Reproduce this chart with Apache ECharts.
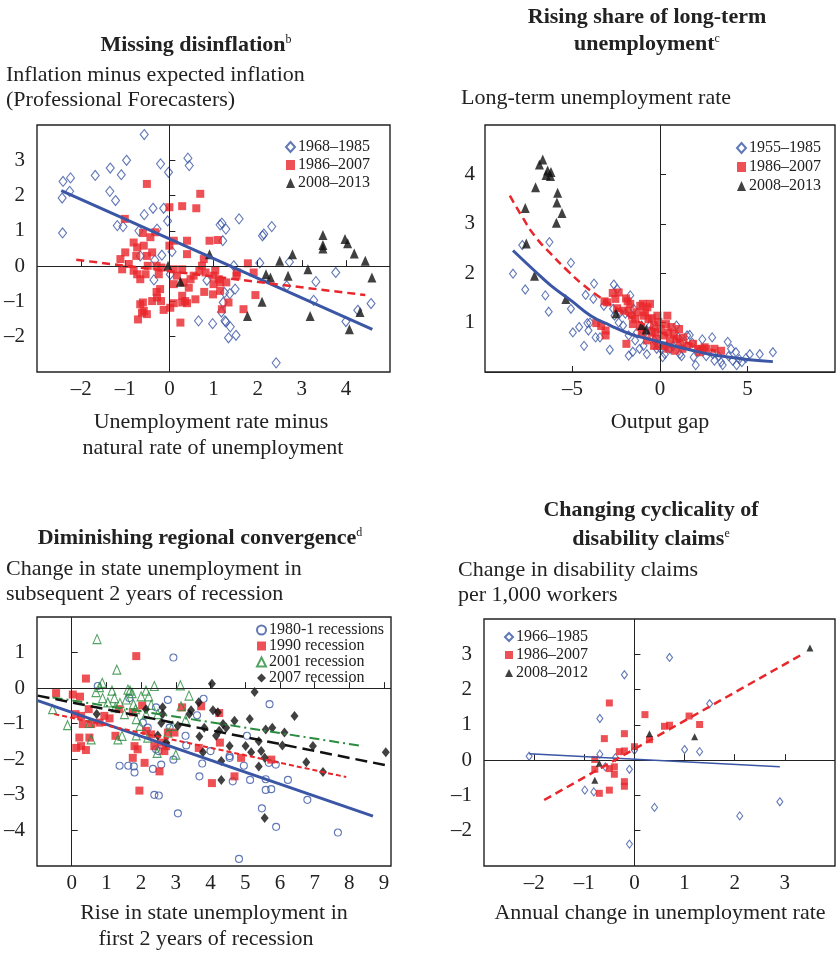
<!DOCTYPE html>
<html>
<head>
<meta charset="utf-8">
<script src="https://cdn.jsdelivr.net/npm/echarts@6/dist/echarts.min.js"></script>
<style>html,body{margin:0;padding:0;background:#fff}#c{width:836px;height:953px}</style>
</head>
<body>
<div id="c"></div>
<script>
// ---------- Panel A: Missing disinflation ----------
const A_1968_1985 = [[-2.43,1.93],[-2.41,2.40],[-2.24,2.50],[-2.26,2.12],[-2.42,0.94],[-1.68,2.57],[-1.34,2.78],[-1.35,2.12],[-1.22,1.86],[-1.09,2.59],[-0.97,3.0],[-1.18,1.15],[-1.05,1.12],[-0.57,3.73],[-0.57,1.46],[-0.37,1.64],[-0.2,2.9],[-0.02,2.66],[-0.13,1.64],[-0.04,1.28],[-0.28,1.05],[-0.69,1.0],[0.42,3.06],[0.45,2.85],[0.06,0.41],[-0.33,0.17],[-0.35,-0.39],[-0.66,0.29],[0.02,-0.23],[1.19,1.22],[1.15,1.17],[1.28,1.05],[1.21,0.72],[1.58,1.34],[0.85,-0.4],[1.25,-0.75],[1.22,-1.03],[1.26,-1.55],[1.28,-1.58],[1.38,-1.72],[1.34,-2.03],[1.51,-1.96],[1.49,-0.65],[1.37,-0.78],[0.66,-1.55],[0.98,-1.63],[1.18,-1.3],[1.46,0.01],[2.05,0.09],[2.11,0.86],[2.14,0.91],[2.32,1.12],[2.72,0.12],[2.66,-0.56],[2.42,-2.74],[3.32,-0.44],[3.27,-0.97],[3.77,-0.18],[4.0,-1.57],[4.27,-1.25],[4.57,-1.06],[-0.17,0.31]];
const A_1986_2007 = [[-0.51,2.33],[-1.01,1.34],[0.70,2.05],[0.0,1.67],[0.29,1.70],[0.61,1.64],[0.91,0.72],[1.1,0.74],[0.4,0.72],[0.1,0.72],[0.0,0.58],[0.4,0.34],[-0.32,0.96],[-0.43,0.82],[-0.6,0.94],[-0.81,0.67],[-0.73,0.53],[-0.58,0.58],[-0.39,0.39],[-1.0,0.39],[-1.11,0.2],[-0.92,0.06],[-0.75,0.29],[-0.51,0.29],[-1.07,-0.09],[-0.81,-0.13],[-0.73,-0.23],[-0.66,-0.37],[-0.54,-0.23],[-0.49,0.01],[-0.29,0.01],[-0.18,-0.04],[-0.24,-0.23],[0.1,-0.09],[0.29,-0.09],[0.17,-0.27],[0.1,-0.51],[0.32,-0.46],[0.48,-0.37],[0.55,-0.27],[0.68,-0.13],[0.74,0.01],[0.78,0.2],[0.82,-0.18],[1.04,-0.13],[1.0,-0.27],[1.12,-0.37],[1.0,-0.51],[1.15,-0.46],[1.29,-0.46],[0.99,-0.8],[1.15,-0.7],[0.79,-0.73],[0.44,-0.61],[0.59,-0.94],[0.29,-0.84],[0.29,-1.03],[0.36,-0.99],[0.4,-1.05],[0.1,-1.05],[0.02,-1.18],[0.25,-1.6],[-0.13,-1.24],[-0.19,-0.99],[-0.28,-0.89],[-0.39,-0.99],[-0.29,-0.73],[-0.21,-0.65],[-0.66,-1.08],[-0.6,-1.03],[-0.71,-1.51],[-0.62,-1.32],[-0.51,-1.36],[-0.58,-1.27],[1.34,-1.03],[1.19,-1.22],[1.68,-1.22],[1.53,-0.18],[1.78,0.08],[1.91,-0.18],[1.95,-0.82],[1.52,-0.27]];
const A_2008_2013 = [[-0.03,0.01],[0.25,-0.44],[0.91,0.34],[1.77,-1.41],[2.1,-1.01],[2.19,-0.23],[2.29,-0.32],[2.5,0.15],[2.69,-0.27],[2.79,0.34],[3.14,-0.09],[3.19,-1.41],[3.48,0.88],[3.48,0.6],[3.48,0.5],[3.98,0.77],[4.04,0.65],[4.19,0.36],[4.08,-1.79],[4.32,-1.3],[4.44,0.15],[4.59,-0.32]];
const A_fit_1968_1985 = [[-2.45,2.14],[4.6,-1.79]];
const A_fit_1986_2007 = [[-2.11,0.18],[4.44,-0.82]];

// ---------- Panel B: Long-term unemployment ----------
const B_1955_1985 = [[-8.4,1.99],[-7.7,1.67],[-7.87,2.57],[-6.55,1.55],[-6.36,1.22],[-6.32,2.63],[-5.09,2.21],[-5.09,1.28],[-4.98,0.8],[-4.62,0.91],[-4.34,0.53],[-4.25,1.56],[-4.15,0.99],[-4.09,0.84],[-4.0,1.0],[-3.77,1.79],[-3.81,1.48],[-3.68,0.7],[-3.43,0.7],[-3.21,1.34],[-2.87,0.45],[-2.64,1.77],[-2.45,1.68],[-2.68,1.28],[-2.6,1.14],[-2.36,1.0],[-2.26,1.21],[-2.11,0.94],[-1.98,1.18],[-1.79,0.74],[-1.79,0.33],[-1.7,1.55],[-1.55,0.41],[-1.42,0.64],[-1.51,1.28],[-1.32,0.8],[-1.17,0.47],[-0.94,0.53],[-0.85,0.8],[-0.75,0.36],[-0.57,0.94],[-0.32,0.64],[-0.19,0.47],[0.15,0.3],[0.28,0.36],[0.57,0.47],[0.75,0.53],[0.94,0.94],[1.04,0.7],[1.13,0.36],[1.23,0.32],[1.32,0.6],[1.55,0.74],[1.7,0.75],[1.85,0.59],[1.92,0.3],[2.04,0.14],[2.17,0.4],[2.45,0.47],[2.64,0.32],[2.98,0.7],[3.02,0.36],[3.11,0.23],[3.36,0.32],[3.49,0.2],[3.58,0.14],[3.87,0.61],[3.92,0.32],[4.06,0.47],[4.15,0.23],[4.34,0.4],[4.38,0.14],[4.53,0.26],[4.68,0.2],[4.91,0.28],[5.13,0.36],[5.7,0.36],[6.45,0.4],[2.42,0.66],[0.04,0.47],[0.38,0.53]];
const B_1986_2007 = [[-3.64,0.99],[-3.36,0.93],[-3.11,0.84],[-3.11,0.74],[-3.17,1.43],[-3.02,1.41],[-2.7,1.6],[-2.36,1.61],[-2.55,1.48],[-2.45,1.29],[-1.94,1.49],[-1.85,1.43],[-1.7,1.38],[-1.92,0.57],[-2.08,1.24],[-1.79,1.24],[-1.6,1.14],[-1.55,0.97],[-1.42,1.07],[-1.32,1.21],[-1.13,1.34],[-0.98,1.38],[-0.85,1.21],[-0.72,1.31],[-0.57,1.38],[-0.66,1.07],[-0.47,1.09],[-0.34,0.94],[-0.15,1.14],[-0.09,1.01],[-0.28,0.8],[0.04,0.87],[0.19,0.74],[0.34,0.97],[0.42,1.14],[0.47,0.8],[0.57,0.64],[0.66,0.91],[0.79,0.77],[0.94,0.67],[1.09,0.87],[1.13,0.57],[1.28,0.47],[1.32,0.7],[-0.34,0.53],[-0.75,0.64],[-0.47,0.8],[-1.13,0.91],[-1.04,0.8],[-0.09,0.53],[0.47,0.47],[0.85,0.43],[1.55,0.53],[1.89,0.57],[2.17,0.47],[2.55,0.5],[2.64,0.47],[3.11,0.47],[3.49,0.43],[2.26,0.4],[0.19,0.53],[-0.23,0.67],[-0.94,1.14]];
const B_2008_2013 = [[-6.7,4.3],[-6.89,4.2],[-6.42,4.08],[-6.23,4.05],[-6.51,3.99],[-6.26,3.97],[-7.11,3.74],[-7.7,3.32],[-5.85,3.63],[-5.89,3.43],[-5.6,3.22],[-5.92,3.02],[-7.64,2.6],[-7.17,1.95],[-5.38,1.48],[-2.51,1.19],[-1.04,0.95],[-0.79,0.86]];
const B_fit_1955_1985 = [[-8.4,2.46],[-7.17,2.05],[-6.23,1.75],[-5.09,1.45],[-3.96,1.14],[-2.83,0.94],[-1.7,0.77],[-0.57,0.66],[0.57,0.55],[1.7,0.45],[2.83,0.36],[3.96,0.3],[5.1,0.25],[6.45,0.21]];
const B_fit_1986_2007 = [[-8.58,3.57],[-7.92,3.17],[-7.17,2.76],[-6.23,2.39],[-5.28,2.05],[-4.34,1.75],[-3.58,1.55],[-2.45,1.28],[-1.32,1.04],[-0.19,0.84],[0.94,0.67],[2.08,0.53],[3.2,0.43]];

// ---------- Panel C: Regional convergence ----------
const C_1980 = [[0.75,0.06],[2.93,0.86],[1.66,-0.28],[2.77,-0.33],[3.8,-0.3],[3.61,-0.76],[2.43,-0.54],[2.05,-0.97],[2.19,-1.11],[2.82,-1.11],[3.28,-1.34],[3.3,-1.61],[2.43,-1.72],[4.0,-1.77],[4.55,-1.91],[5.05,-1.34],[5.7,-0.45],[1.38,-2.18],[1.63,-2.18],[1.79,-2.2],[1.81,-2.37],[2.34,-2.27],[2.58,-2.15],[2.93,-2.01],[3.76,-2.12],[3.68,-2.48],[4.64,-2.62],[4.96,-2.18],[5.14,-2.58],[5.59,-2.56],[5.68,-2.1],[5.88,-2.15],[5.59,-2.86],[5.75,-2.84],[6.23,-2.58],[2.38,-3.0],[2.51,-3.02],[3.06,-3.52],[5.48,-3.38],[5.89,-3.9],[6.79,-3.14],[7.67,-4.06],[4.82,-4.8],[4.55,-1.96],[2.5,-1.77]];
const C_1990 = [[-0.45,-0.14],[0.03,-0.18],[0.24,-0.24],[0.41,0.27],[1.86,0.9],[0.13,-1.68],[0.22,-1.39],[0.27,-1.63],[0.41,-1.74],[0.51,-1.39],[0.11,-0.73],[0.27,-0.78],[0.32,-1.01],[0.49,-0.59],[0.56,-1.01],[0.8,-0.97],[0.94,-0.78],[1.09,-0.85],[1.26,-1.34],[1.36,-0.59],[1.76,-0.68],[1.81,-1.63],[1.76,-1.96],[1.9,-1.72],[1.95,-2.88],[2.03,-0.49],[2.1,-2.1],[2.14,-1.2],[2.29,-1.3],[2.38,-1.63],[2.53,-2.34],[2.67,-1.77],[2.77,-1.25],[2.96,-1.25],[3.18,-0.54],[3.66,-1.68],[3.73,-0.51],[4.04,-2.67],[4.25,-0.7],[4.27,-1.53],[4.69,-2.48],[4.88,-1.96],[5.75,-2.01],[2.58,-1.53],[2.72,-1.63]];
const C_2001 = [[0.73,1.38],[1.3,0.52],[-0.55,-0.59],[-0.12,-1.04],[0.51,-0.98],[0.56,-1.44],[0.7,-0.11],[0.8,0.03],[0.88,0.15],[0.89,-0.28],[1.04,-0.4],[1.16,-0.07],[1.23,-0.28],[1.26,-0.54],[1.39,-0.42],[1.52,-0.73],[1.62,-0.04],[1.68,-0.07],[1.74,-0.14],[1.78,-0.45],[1.84,-0.59],[1.86,-0.87],[1.86,-1.33],[1.97,-1.06],[2.0,-0.23],[2.14,-0.07],[2.22,-0.23],[2.29,-0.47],[2.38,0.06],[2.48,-0.73],[2.19,-1.39],[2.46,-1.82],[3.0,-1.87],[3.13,0.08],[3.38,-0.21],[3.15,-0.51],[3.28,-0.89],[2.91,-1.06],[2.77,-1.25],[1.33,-1.44],[1.45,-1.34],[2.14,-0.73],[1.57,-0.32]];
const C_2007 = [[0.72,-0.73],[2.14,-0.59],[2.48,-1.33],[2.62,-0.54],[2.62,-0.73],[2.58,-0.98],[2.72,-1.53],[3.06,-1.06],[3.44,-0.62],[3.39,-0.73],[3.66,-0.4],[3.68,-1.36],[3.82,-1.11],[3.78,-1.8],[4.04,0.12],[4.07,-0.62],[4.21,-0.68],[4.16,-1.34],[4.25,-1.2],[4.36,-1.01],[4.45,-1.11],[4.55,-1.63],[4.31,-2.05],[4.31,-2.58],[4.69,-0.92],[5.01,-1.63],[5.13,-0.87],[5.27,-0.11],[5.17,-1.8],[5.39,-1.49],[5.46,-1.77],[5.39,-2.2],[5.56,-1.96],[5.59,-1.16],[5.78,-1.11],[5.56,-3.65],[6.13,-1.25],[6.07,-1.61],[6.42,-0.78],[6.95,-1.63],[6.76,-2.08],[7.24,-2.36],[9.05,-1.8]];
const C_fit_1980 = [[-0.98,-0.35],[8.68,-3.6]];
const C_fit_1990 = [[-0.5,-0.73],[7.91,-2.5]];
const C_fit_2001 = [[-0.55,-0.26],[8.39,-1.63]];
const C_fit_2007 = [[-0.98,-0.21],[9.07,-2.17]];

// ---------- Panel D: Disability claims ----------
const D_1966_1985 = [[-2.1,0.11],[-0.69,1.18],[-0.69,0.17],[-0.38,0.07],[-0.58,-0.19],[-0.99,-0.85],[-0.81,-0.9],[-0.2,2.42],[-0.1,-0.26],[-0.1,-2.38],[0.0,0.28],[0.4,-1.34],[0.7,2.91],[1.0,0.3],[1.3,0.24],[1.5,1.6],[2.1,-1.58],[2.9,-1.18]];
const D_1986_2007 = [[-0.5,1.62],[-0.6,0.61],[-0.79,0.02],[-0.79,-0.26],[-0.7,-0.94],[-0.5,-0.85],[-0.5,-0.24],[-0.4,-0.19],[-0.4,-0.4],[-0.3,0.24],[-0.2,0.26],[-0.2,0.75],[-0.2,-0.61],[-0.2,-0.74],[0.0,0.38],[0.21,1.29],[0.3,0.58],[0.6,0.96],[0.7,0.99],[1.09,1.25],[1.3,1.01]];
const D_2008_2012 = [[-0.79,-0.57],[-0.7,-0.09],[0.3,0.75],[1.2,0.66],[3.5,3.18]];
const D_fit_1966_1985 = [[-2.1,0.18],[2.9,-0.19]];
const D_fit_1986_2007 = [[-1.8,-1.13],[3.31,2.97]];

// ---------- styling ----------
const FONT = '"Liberation Serif","Times New Roman",serif';
const BLUE = '#3a56a5', RED = '#e8262b', GREEN = '#2a8c3e', BLACK = '#111';
const TXT = '#222';

function fmt(v){ return v < 0 ? '\u2013' + Math.abs(v) : String(v); }

function mkAxis(idx, min, max, interval, margin){
  return {
    type:'value', gridIndex:idx, min:min, max:max, interval:interval,
    axisLine:{show:false},
    axisTick:{show:true, inside:true, length:6, lineStyle:{color:TXT, width:1}},
    splitLine:{show:false},
    axisLabel:{show:true, showMinLabel:false, showMaxLabel:false, formatter:fmt, margin:margin,
      color:TXT, fontFamily:FONT, fontSize:21}
  };
}

const grids = [
  {left:37, top:125, width:353, height:247},
  {left:485, top:125, width:350, height:247},
  {left:37, top:617, width:354, height:249},
  {left:484, top:619, width:351, height:247}
].map(g => Object.assign({show:true, borderColor:TXT, borderWidth:1.4, backgroundColor:'transparent'}, g));

const xAxes = [mkAxis(0,-3,5,1,7), mkAxis(1,-10,10,5,7), mkAxis(2,-1,9.2,1,7), mkAxis(3,-3,4,1,7)];
const yAxes = [mkAxis(0,-3,4,1,12), mkAxis(1,0,5,1,10), mkAxis(2,-5,2,1,12), mkAxis(3,-3,4,1,12)];

function scatter(name, idx, data, symbol, size, style, z){
  return {type:'scatter', name:name, xAxisIndex:idx, yAxisIndex:idx, data:data, symbol:symbol,
    symbolSize:size, itemStyle:style, z:z||3, silent:true};
}
function fit(idx, data, color, width, type, smooth){
  return {type:'line', xAxisIndex:idx, yAxisIndex:idx, data:data, showSymbol:false, symbol:'none',
    smooth:!!smooth, lineStyle:{color:color, width:width, type:type}, z:5, silent:true};
}
function zeroLines(idx){
  return {type:'line', xAxisIndex:idx, yAxisIndex:idx, data:[], silent:true, z:2,
    markLine:{silent:true, symbol:['none','none'], label:{show:false},
      lineStyle:{color:TXT, width:1, type:'solid'}, data:[{xAxis:0},{yAxis:0}]}};
}
const hollow = c => ({color:'rgba(255,255,255,0)', borderColor:c, borderWidth:1.1});
const solid = c => ({color:c});

const series = [
  zeroLines(0), zeroLines(1), zeroLines(2), zeroLines(3),
  // A
  scatter('1968\u20131985',0,A_1968_1985,'diamond',[8,10],hollow(BLUE)),
  scatter('1986\u20132007',0,A_1986_2007,'rect',8,solid(RED)),
  scatter('2008\u20132013',0,A_2008_2013,'triangle',[9,10],solid(BLACK)),
  fit(0,A_fit_1968_1985,BLUE,3,'solid'),
  fit(0,A_fit_1986_2007,RED,2.5,[8,5]),
  // B
  scatter('1955\u20131985',1,B_1955_1985,'diamond',[7,9],hollow(BLUE)),
  scatter('1986\u20132007',1,B_1986_2007,'rect',8,solid(RED)),
  scatter('2008\u20132013',1,B_2008_2013,'triangle',[9,10],solid(BLACK)),
  fit(1,B_fit_1955_1985,BLUE,3,'solid',true),
  fit(1,B_fit_1986_2007,RED,2.5,[8,5],true),
  // C
  scatter('1980-1 recessions',2,C_1980,'circle',7,hollow(BLUE)),
  scatter('1990 recession',2,C_1990,'rect',8,solid(RED)),
  scatter('2001 recession',2,C_2001,'triangle',[8,9],hollow(GREEN)),
  scatter('2007 recession',2,C_2007,'diamond',[8,10],solid(BLACK)),
  fit(2,C_fit_1980,BLUE,3,'solid'),
  fit(2,C_fit_1990,RED,2,[5,3]),
  fit(2,C_fit_2001,GREEN,2,[10,4,2,4]),
  fit(2,C_fit_2007,BLACK,2.5,[12,6]),
  // D
  scatter('1966\u20131985',3,D_1966_1985,'diamond',[6,8],hollow(BLUE)),
  scatter('1986\u20132007 ',3,D_1986_2007,'rect',7,solid(RED)),
  scatter('2008\u20132012',3,D_2008_2012,'triangle',[7,7],solid(BLACK)),
  fit(3,D_fit_1966_1985,BLUE,1.5,'solid'),
  fit(3,D_fit_1986_2007,RED,2.5,[8,5])
];

function legend(names, left, top, gap, iw, ih){
  return {data:names, orient:'vertical', left:left, top:top, itemGap:gap, itemWidth:iw||10, itemHeight:ih||10,
    selectedMode:false, padding:0, textStyle:{fontFamily:FONT, fontSize:16, color:TXT, padding:[0,0,0,-2]}};
}
const legends = [
  legend(['1968\u20131985','1986\u20132007','2008\u20132013'], 285, 139, 2, 9, 10),
  legend(['1955\u20131985','1986\u20132007','2008\u20132013'], 736, 140, 3, 9, 10),
  legend(['1980-1 recessions','1990 recession','2001 recession','2007 recession'], 256, 622, 0, 9, 9),
  legend(['1966\u20131985','1986\u20132007 ','2008\u20132012'], 504, 629, 2, 8, 8)
];

function t(text, x, y, align){
  return {type:'text', x:x, y:y, silent:true,
    style:{text:text, fontFamily:FONT, fontSize:22, fill:TXT, textAlign:align||'left', textVerticalAlign:'middle'}};
}
function title(main, sup, x, y){
  return {type:'text', x:x, y:y, silent:true,
    style:{text:'{m|' + main + '}{s|' + sup + '}', textAlign:'center', textVerticalAlign:'middle',
      rich:{m:{fontFamily:FONT, fontSize:22, fontWeight:'bold', fill:TXT, lineHeight:24, verticalAlign:'bottom'},
            s:{fontFamily:FONT, fontSize:12, fill:TXT, lineHeight:24, verticalAlign:'top', padding:[2,0,0,0]}}}};
}
function titlePlain(main, x, y){
  return {type:'text', x:x, y:y, silent:true,
    style:{text:main, fontFamily:FONT, fontSize:22, fontWeight:'bold', fill:TXT, textAlign:'center', textVerticalAlign:'middle'}};
}

const graphics = [
  title('Missing disinflation','b',196,44),
  t('Inflation minus expected inflation',6,75),
  t('(Professional Forecasters)',6,100),
  titlePlain('Rising share of long-term',647,17),
  title('unemployment','c',647,43),
  t('Long-term unemployment rate',461,98),
  t('Unemployment rate minus',211,422,'center'),
  t('natural rate of unemployment',213,448,'center'),
  t('Output gap',660,422,'center'),
  title('Diminishing regional convergence','d',200,537),
  t('Change in state unemployment in',6,569),
  t('subsequent 2 years of recession',6,594),
  titlePlain('Changing cyclicality of',651,510),
  title('disability claims','e',651,538),
  t('Change in disability claims',458,570),
  t('per 1,000 workers',458,595),
  t('Rise in state unemployment in',214,913,'center'),
  t('first 2 years of recession',206,939,'center'),
  t('Annual change in unemployment rate',660,913,'center')
];

const chart = echarts.init(document.getElementById('c'), null, {renderer:'canvas'});
chart.setOption({
  animation:false,
  backgroundColor:'#fff',
  grid:grids, xAxis:xAxes, yAxis:yAxes, legend:legends, series:series, graphic:graphics
});
</script>
</body>
</html>
